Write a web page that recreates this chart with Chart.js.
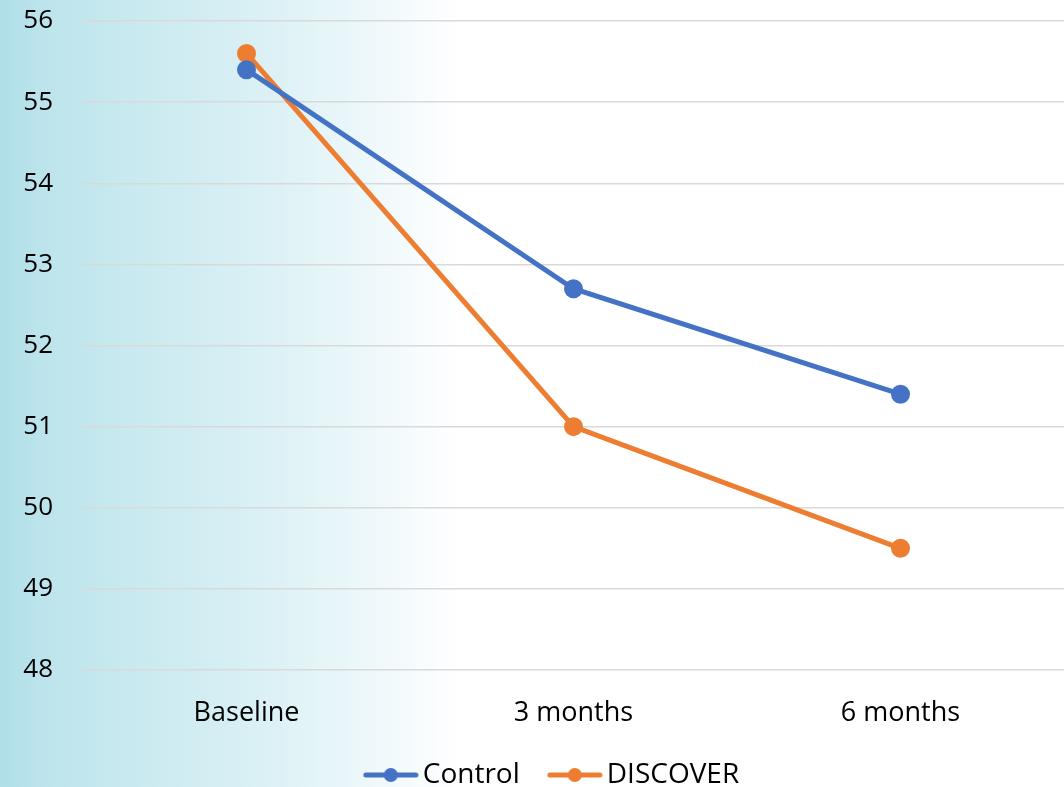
<!DOCTYPE html>
<html>
<head>
<meta charset="utf-8">
<script src="https://cdn.jsdelivr.net/npm/chart.js@4/dist/chart.umd.min.js"></script>
<style>
  html, body { margin: 0; padding: 0; background: #fff; }
  #chart { display: block; }
</style>
</head>
<body>
<canvas id="chart" width="1064" height="787"></canvas>
<script>
const categories = ["Baseline", "3 months", "6 months"];
const controlValues = [55.4, 52.7, 51.4];
const discoverValues = [55.6, 51.0, 49.5];
const yTicks = [48, 49, 50, 51, 52, 53, 54, 55, 56];

const blue = "#4472C4";
const orange = "#ED7D31";

// line + dot marker for the legend
function legendMarker(color) {
    const c = document.createElement("canvas");
    c.width = 56;
    c.height = 16;
    const ctx = c.getContext("2d");
    ctx.strokeStyle = color;
    ctx.lineWidth = 5;
    ctx.lineCap = "round";
    ctx.beginPath();
    ctx.moveTo(3, 8);
    ctx.lineTo(53, 8);
    ctx.stroke();
    ctx.fillStyle = color;
    ctx.beginPath();
    ctx.arc(28, 8, 7, 0, Math.PI * 2);
    ctx.fill();
    return c;
}

const bgPlugin = {
    id: "bg",
    beforeDraw(chart) {
        const ctx = chart.ctx;
        const g = ctx.createLinearGradient(0, 0, 460, 0);
        g.addColorStop(0, "#b0dfe9");
        g.addColorStop(0.1, "#bde4ec");
        g.addColorStop(0.35, "#cdebf1");
        g.addColorStop(0.55, "#d9f0f4");
        g.addColorStop(0.75, "#e9f6f9");
        g.addColorStop(1, "#ffffff");
        ctx.save();
        ctx.fillStyle = "#ffffff";
        ctx.fillRect(0, 0, chart.width, chart.height);
        ctx.fillStyle = g;
        ctx.fillRect(0, 0, 460, chart.height);
        ctx.restore();
    }
};

// the legend sits a little right of the canvas centre in the original
const legendShift = {
    id: "legendShift",
    afterLayout(chart) {
        chart.legend.left += 24;
        chart.legend.right += 24;
        chart.legend.top += 3;
        chart.legend.bottom += 3;
    }
};

const font = "'Open Sans', 'Liberation Sans', sans-serif";

new Chart(document.getElementById("chart"), {
    type: "line",
    data: {
        labels: categories,
        datasets: [{
            label: "Control",
            data: controlValues,
            borderColor: blue,
            backgroundColor: blue,
            borderWidth: 5,
            pointRadius: 7,
            pointHoverRadius: 7,
            pointStyle: "circle",
            tension: 0
        }, {
            label: "DISCOVER",
            data: discoverValues,
            borderColor: orange,
            backgroundColor: orange,
            borderWidth: 5,
            pointRadius: 7,
            pointHoverRadius: 7,
            pointStyle: "circle",
            tension: 0
        }]
    },
    options: {
        responsive: false,
        animation: false,
        layout: { autoPadding: false, padding: { top: 21, right: 0, bottom: -9, left: 0 } },
        plugins: {
            tooltip: { enabled: false },
            legend: {
                position: "bottom",
                labels: {
                    color: "#000",
                    font: { family: font, size: 28 },
                    usePointStyle: true,
                    pointStyleWidth: 36,
                    padding: 37,
                    generateLabels(chart) {
                        return chart.data.datasets.map((ds, i) => ({
                            text: ds.label,
                            fontColor: "#000",
                            pointStyle: legendMarker(ds.borderColor),
                            datasetIndex: i,
                            lineWidth: 0,
                            hidden: false
                        }));
                    }
                }
            }
        },
        scales: {
            x: {
                offset: true,
                afterFit(scale) {
                    scale.height = 51;
                    scale.paddingLeft = 0;
                    scale.paddingRight = 0;
                },
                grid: { display: false, drawTicks: false },
                border: { display: false },
                ticks: {
                    color: "#000",
                    font: { family: font, size: 27 },
                    padding: 27
                }
            },
            y: {
                min: 48,
                max: 56,
                afterFit(scale) {
                    scale.width = 83;
                    scale.paddingTop = 0;
                    scale.paddingBottom = 0;
                },
                afterBuildTicks(scale) { scale.ticks = yTicks.map(v => ({ value: v })); },
                grid: { color: "#d9d9d9", lineWidth: 1.5, drawTicks: false },
                border: { display: false },
                ticks: {
                    color: "#000",
                    font: { family: font, size: 26 },
                    padding: 30
                }
            }
        }
    },
    plugins: [bgPlugin, legendShift]
});
</script>
</body>
</html>
